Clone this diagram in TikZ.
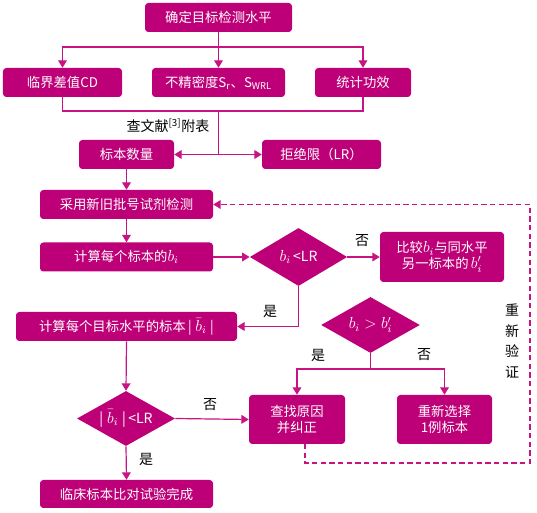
\documentclass[tikz,border=0pt]{standalone}
\usepackage{fontspec}
\setmainfont{Noto Sans CJK SC}
\usetikzlibrary{shapes.geometric,arrows.meta}
\definecolor{mg}{RGB}{190,0,120}
\definecolor{ln}{RGB}{200,20,130}
\newcommand{\mbig}[1]{{\fontsize{11.5}{12}\selectfont$#1$}}
\tikzset{
  box/.style={fill=mg,rounded corners=2.5pt,text=white,font=\fontsize{10}{12}\selectfont,inner sep=1pt,align=center},
  dia/.style={diamond,fill=mg,text=white,font=\fontsize{10.5}{12}\selectfont,inner sep=0pt,shape aspect=1.7},
  arr/.style={draw=ln,line width=0.9pt,-{Triangle[width=6.5pt,length=5.5pt]}},
  lin/.style={draw=ln,line width=0.9pt},
  dsh/.style={draw=ln,line width=1pt,dash pattern=on 4pt off 2.5pt,-{Triangle[width=6.5pt,length=5.5pt]}},
  lbl/.style={font=\fontsize{10.5}{12}\selectfont,text=black}
}
\begin{document}
\begin{tikzpicture}[x=0.75pt,y=-0.75pt]
\useasboundingbox (0,0) rectangle (537,513);
% boxes
\node[box,minimum width=110.25pt,minimum height=21.75pt] (top) at (218.5,17.5) {确定目标检测水平};
\node[box,minimum width=89.25pt,minimum height=21.75pt] (cd) at (62.5,82.5) {临界差值CD};
\node[box,minimum width=99.75pt,minimum height=21.75pt] (imp) at (218.5,82.5) {不精密度S\textsubscript{r}、S\textsubscript{WRL}};
\node[box,minimum width=72pt,minimum height=21.75pt] (pow) at (363,82.5) {统计功效};
\node[box,minimum width=71.25pt,minimum height=21.75pt] (sn) at (126.5,154.5) {标本数量};
\node[box,minimum width=89.25pt,minimum height=21.75pt] (lr) at (321.5,154.5) {拒绝限（LR）};
\node[box,minimum width=129.75pt,minimum height=21.75pt] (use) at (126.5,204.5) {采用新旧批号试剂检测};
\node[box,minimum width=129.75pt,minimum height=21.75pt] (calc) at (126.5,257) {计算每个标本的\mbig{b_i}};
\node[dia,minimum width=73pt,minimum height=43.5pt] (d1) at (298.5,257) {\mbig{b_i}\,<LR};
\node[box,minimum width=93pt,minimum height=37.5pt] (cmp) at (442,257) {比较\mbig{b_i}与同水平\\另一标本的\,\mbig{b'_i}};
\node[box,minimum width=165.75pt,minimum height=21.75pt] (tgt) at (126.5,326.5) {计算每个目标水平的标本\,|\;\mbig{\bar{b}_i}\;|};
\node[dia,minimum width=74pt,minimum height=42pt] (d2) at (370.5,325) {\mbig{b_i>b'_i}};
\node[box,minimum width=72pt,minimum height=36.75pt] (chk) at (297,419.5) {查找原因\\并纠正};
\node[box,minimum width=71.25pt,minimum height=36.75pt] (res) at (444.5,419.5) {重新选择\\1例标本};
\node[dia,minimum width=73.5pt,minimum height=41.25pt] (d3) at (126,418.5) {|\;\mbig{\bar{b}_i}\;|\,<LR};
\node[box,minimum width=129.75pt,minimum height=21pt] (fin) at (126.5,494) {临床标本比对试验完成};
% coordinates
\coordinate (j1) at (218.5,47);
\coordinate (j2) at (218.5,111);
\coordinate (j3) at (218.5,154.5);
\coordinate (j4) at (370.5,369);
\coordinate (c1) at (305,444);
\coordinate (c2) at (530,463);
% connectors
\draw[lin] (top.south) -- (j1);
\draw[arr] (j1) -| (cd.north);
\draw[arr] (j1) -| (pow.north);
\draw[arr] (j1) -- (imp.north);
\draw[lin] (cd.south) |- (j2) -| (pow.south);
\draw[lin] (j2) -- (j3);
\draw[arr] (j3) -- (sn.east);
\draw[arr] (j3) -- (lr.west);
\draw[arr] (sn.south) -- (use.north);
\draw[arr] (use.south) -- (calc.north);
\draw[arr] (calc.east) -- (d1.west);
\draw[arr] (d1.east) -- (cmp.west);
\draw[arr] (d1.south) |- (tgt.east);
\draw[arr] (tgt.south) -- (d3.north);
\draw[arr] (d3.east) -- (chk.west);
\draw[arr] (d3.south) -- (fin.north);
\draw[lin] (d2.south) -- (j4);
\draw[arr] (j4) -| (chk.north);
\draw[arr] (j4) -| (res.north);
\draw[dsh] (c1) |- (c2) |- (use.east);
% labels
\node[lbl] (l1) at (168,126) {查文献\textsuperscript{[3]}附表};
\node[lbl] (l2) at (362,241) {否};
\node[lbl] (l3) at (270,311) {是};
\node[lbl] (l4) at (318,355) {是};
\node[lbl] (l5) at (424,355) {否};
\node[lbl] (l6) at (210,405) {否};
\node[lbl] (l7) at (146,459) {是};
\node[lbl,align=center,font=\fontsize{10.5}{15.5}\selectfont] (l8) at (512,341) {重\\新\\验\\证};
\end{tikzpicture}
\end{document}
